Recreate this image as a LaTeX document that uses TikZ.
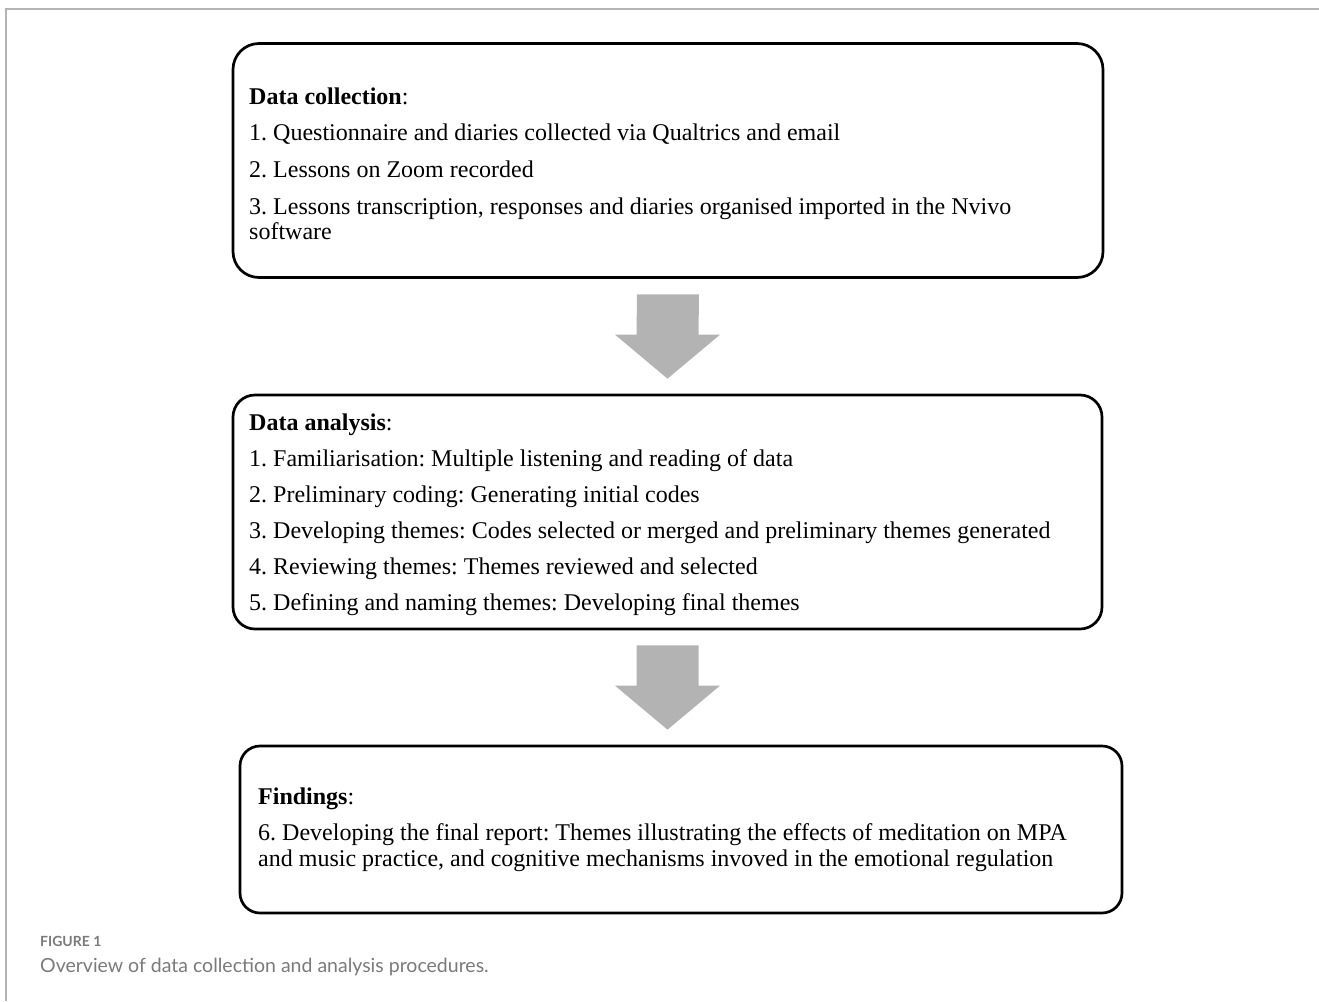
\documentclass[tikz,border=0pt]{standalone}
\usepackage{fontspec}
\setmainfont{Liberation Serif}
\newfontfamily\capfont{Lato}
\usetikzlibrary{calc}
\definecolor{arrowgray}{HTML}{B3B3B3}
\definecolor{framegray}{HTML}{B4B4B4}
\definecolor{capgray}{HTML}{7A7A7A}
\frenchspacing
\begin{document}
\begin{tikzpicture}[x=1pt,y=-1pt,
  box/.style={draw=black, line width=2.7pt, rounded corners=26pt, inner sep=0pt},
  txt/.style={anchor=base west, inner sep=0pt, font=\fontsize{24}{28}\selectfont},
  blockarrow/.style={fill=arrowgray, draw=none},
  caplabel/.style={anchor=base west, inner sep=0pt, text=capgray}]
\useasboundingbox (0,0) rectangle (1319,1001);
\draw[framegray, line width=2pt] (6,1001) -- (6,8.5) -- (1319,8.5);

% boxes
\node[box, minimum width=870pt, minimum height=234pt] (b1) at (668,160.5) {};
\node[box, rounded corners=22pt, minimum width=869pt, minimum height=234pt] (b2) at (667.5,512) {};
\node[box, rounded corners=20pt, minimum width=882pt, minimum height=167pt] (b3) at (681,829.5) {};

% box 1 text
\node[txt] (c0) at (249,104) {\textbf{Data collection}:};
\node[txt] (c1) at (249,140) {1. Questionnaire and diaries collected via Qualtrics and email};
\node[txt] (c2) at (249,177) {2. Lessons on Zoom recorded};
\node[txt] (c3) at (249,214) {3. Lessons transcription, responses and diaries organised imported in the Nvivo};
\node[txt] (c4) at (249,239) {software};

% box 2 text
\node[txt] (a0) at (249,430) {\textbf{Data analysis}:};
\node[txt] (a1) at (249,466) {1. Familiarisation: Multiple listening and reading of data};
\node[txt] (a2) at (249,502) {2. Preliminary coding: Generating initial codes};
\node[txt] (a3) at (249,538) {3. Developing themes: Codes selected or merged and preliminary themes generated};
\node[txt] (a4) at (249,574) {4. Reviewing themes: Themes reviewed and selected};
\node[txt] (a5) at (249,610) {5. Defining and naming themes: Developing final themes};

% box 3 text
\node[txt] (f0) at (258,804) {\textbf{Findings}:};
\node[txt] (f1) at (258,840) {6. Developing the final report: Themes illustrating the effects of meditation on MPA};
\node[txt] (f2) at (258,866) {and music practice, and cognitive mechanisms invoved in the emotional regulation};

% block arrows
\coordinate (s1) at ($(b1.south)+(0,15.5)$);
\coordinate (e1) at ($(b2.north)+(0,-15)$);
\fill[blockarrow] ($(s1)+(-31,0)$) -- ($(s1)+(31,0)$) -- ($(e1)+(31,-44)$) -- ($(e1)+(52.5,-44)$)
  -- (e1) -- ($(e1)+(-52.5,-44)$) -- ($(e1)+(-31,-44)$) -- cycle;
\coordinate (s2) at ($(b2.south)+(0,15)$);
\coordinate (e2) at ($(b2.south |- b3.north)+(0,-15)$);
\fill[blockarrow] ($(s2)+(-31,0)$) -- ($(s2)+(31,0)$) -- ($(e2)+(31,-44)$) -- ($(e2)+(52.5,-44)$)
  -- (e2) -- ($(e2)+(-52.5,-44)$) -- ($(e2)+(-31,-44)$) -- cycle;

% caption
\node[caplabel, font=\capfont\bfseries\fontsize{14}{16}\selectfont] (figlabel) at (40,946) {FIGURE 1};
\node[caplabel, font=\capfont\fontsize{19.5}{23}\selectfont] (caption) at (40,972) {Overview of data collection and analysis procedures.};
\end{tikzpicture}
\end{document}
